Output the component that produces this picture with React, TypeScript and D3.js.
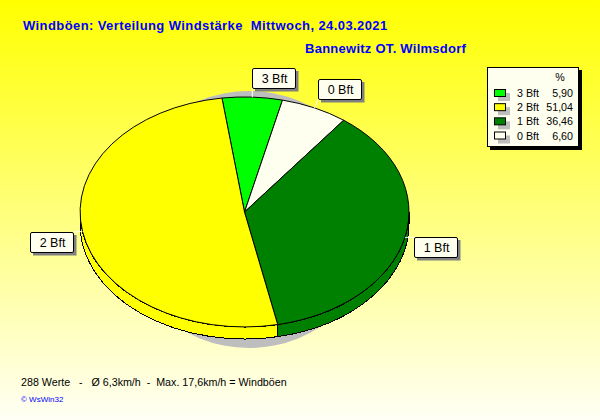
import * as d3 from 'd3';
import { ReactElement, useEffect, useRef } from 'react';

// Data, in the order the slices run clockwise
const sliceLabels = ['3 Bft', '0 Bft', '1 Bft', '2 Bft'];
const sliceValues = [5.9, 6.6, 36.46, 51.04];
const sliceColors = ['#00FF00', '#FFFFF0', '#008000', '#FFFF00'];

// Legend runs in another order
const legendLabels = ['3 Bft', '2 Bft', '1 Bft', '0 Bft'];
const legendValues = ['5,90', '51,04', '36,46', '6,60'];
const legendColors = ['#00FF00', '#FFFF00', '#008000', '#FFFFF0'];

const titleText = 'Windböen: Verteilung Windstärke  Mittwoch, 24.03.2021';
const stationText = 'Bannewitz OT. Wilmsdorf';
const footerText = '288 Werte   -   Ø 6,3km/h  -  Max. 17,6km/h = Windböen';
const creditText = '© WsWin32';

const WIDTH = 600;
const HEIGHT = 420;
const cx = 244.5;
const cy = 212;
const rx = 164.5;
const ry = 115;
const depth = 12;
const startAngle = (-7.9 * Math.PI) / 180;
const FONT = '"Liberation Sans", Arial, sans-serif';

export default function App(): ReactElement {
  const svgRef = useRef<SVGSVGElement>(null);

  useEffect(() => {
    if (!svgRef.current) { return; }
    const svg = d3.select(svgRef.current);
    svg.selectAll('*').remove();

    // Background gradient
    const defs = svg.append('defs');
    const grad = defs.append('linearGradient')
      .attr('id', 'bg')
      .attr('x1', 0).attr('y1', 0).attr('x2', 0).attr('y2', 1);
    grad.append('stop').attr('offset', '0%').attr('stop-color', '#FFFF00');
    grad.append('stop').attr('offset', '100%').attr('stop-color', '#FFFFF5');
    svg.append('rect')
      .attr('width', WIDTH).attr('height', HEIGHT)
      .attr('fill', 'url(#bg)');

    // Titles
    svg.append('text')
      .attr('x', 23).attr('y', 30)
      .attr('fill', '#0000FF')
      .style('font', `bold 13px ${FONT}`)
      .style('letter-spacing', '0.41px')
      .style('white-space', 'pre')
      .text(titleText);
    svg.append('text')
      .attr('x', 305).attr('y', 53)
      .attr('fill', '#0000FF')
      .style('font', `bold 13px ${FONT}`)
      .style('letter-spacing', '0.26px')
      .style('white-space', 'pre')
      .text(stationText);

    // Shadow of the pie, only peeks out at top and bottom
    svg.append('ellipse')
      .attr('cx', 249).attr('cy', 219.5)
      .attr('rx', 130).attr('ry', 128.5)
      .attr('fill', '#BEBEBE');

    const pie = d3.pie<number>()
      .sort(null)
      .startAngle(startAngle)
      .endAngle(startAngle + 2 * Math.PI);
    const arcs = pie(sliceValues);

    // Unit radius arc, squashed to the ellipse by the group transform
    const arc = d3.arc<d3.PieArcDatum<number>>()
      .innerRadius(0)
      .outerRadius(1);

    const edge = (angle: number, dy = 0): [number, number] => [
      cx + rx * Math.sin(angle),
      cy - ry * Math.cos(angle) + dy,
    ];

    // Pie wall, front half only
    const wall = svg.append('g').attr('shape-rendering', 'crispEdges');
    arcs.forEach((d, i) => {
      const a0 = Math.max(d.startAngle, Math.PI / 2);
      const a1 = Math.min(d.endAngle, (3 * Math.PI) / 2);
      if (a1 <= a0) { return; }
      const [x0, y0] = edge(a0);
      const [x1, y1] = edge(a1);
      const [x2, y2] = edge(a1, depth);
      const [x3, y3] = edge(a0, depth);
      wall.append('path')
        .attr('d', `M${x0},${y0}A${rx},${ry} 0 0 1 ${x1},${y1}L${x2},${y2}A${rx},${ry} 0 0 0 ${x3},${y3}Z`)
        .attr('fill', sliceColors[i])
        .attr('stroke', '#000')
        .attr('stroke-width', 1);
    });

    // Pie top
    const top = svg.append('g')
      .attr('transform', `translate(${cx},${cy}) scale(${rx},${ry})`);
    top.selectAll('path')
      .data(arcs)
      .enter()
      .append('path')
      .attr('d', d => arc(d))
      .attr('fill', (_, i) => sliceColors[i])
      .attr('stroke', '#000')
      .attr('stroke-width', 1)
      .attr('vector-effect', 'non-scaling-stroke');

    // Slice labels, boxes hung off the rim at the slice middle
    const boxW = 43;
    const boxH = 20;
    const labelOffsets: [number, number][] = [[0, -29], [3.5, -29], [9, 0], [-52.5, 0]];
    arcs.forEach((d, i) => {
      const mid = (d.startAngle + d.endAngle) / 2;
      const [ex, ey] = edge(mid);
      const bx = Math.round(ex + labelOffsets[i][0]);
      const by = Math.round(ey + labelOffsets[i][1]);
      const nearX = Math.max(bx, Math.min(ex, bx + boxW));
      const nearY = Math.max(by, Math.min(ey, by + boxH));
      svg.append('line')
        .attr('x1', ex).attr('y1', ey)
        .attr('x2', nearX).attr('y2', nearY)
        .attr('stroke', '#FFF');
      svg.append('rect')
        .attr('x', bx + 3).attr('y', by + 3)
        .attr('width', boxW + 0.5).attr('height', boxH + 0.5)
        .attr('fill', '#808080');
      svg.append('rect')
        .attr('x', bx + 0.5).attr('y', by + 0.5)
        .attr('width', boxW).attr('height', boxH)
        .attr('rx', 1.5)
        .attr('fill', '#FFFFF0')
        .attr('stroke', '#000');
      svg.append('text')
        .attr('x', bx + boxW / 2 + 1).attr('y', by + 15)
        .attr('text-anchor', 'middle')
        .style('font', `12.5px ${FONT}`)
        .text(sliceLabels[i]);
    });

    // Legend
    const legendX = 487;
    const legendY = 67;
    const legendW = 91;
    const legendH = 79;
    svg.append('rect')
      .attr('x', legendX + 3).attr('y', legendY + 3)
      .attr('width', legendW + 1).attr('height', legendH + 1)
      .attr('fill', '#000');
    svg.append('rect')
      .attr('x', legendX + 0.5).attr('y', legendY + 0.5)
      .attr('width', legendW).attr('height', legendH)
      .attr('fill', '#FFFFF0')
      .attr('stroke', '#000');
    svg.append('text')
      .attr('x', 560).attr('y', 81)
      .attr('text-anchor', 'middle')
      .style('font', `10.7px ${FONT}`)
      .text('%');

    const rowScale = d3.scalePoint<string>()
      .domain(legendLabels)
      .range([93, 135.5]);
    legendLabels.forEach((label, i) => {
      const y = rowScale(label) || 0;
      svg.append('rect')
        .attr('x', 498).attr('y', y)
        .attr('width', 12).attr('height', 8)
        .attr('fill', '#BEBEBE');
      svg.append('rect')
        .attr('x', 494.5).attr('y', y - 3.5)
        .attr('width', 11).attr('height', 7)
        .attr('fill', legendColors[i])
        .attr('stroke', '#000');
      svg.append('text')
        .attr('x', 517).attr('y', y + 4)
        .style('font', `10.7px ${FONT}`)
        .text(label);
      svg.append('text')
        .attr('x', 573).attr('y', y + 4)
        .attr('text-anchor', 'end')
        .style('font', `10.7px ${FONT}`)
        .text(legendValues[i]);
    });

    // Footer
    svg.append('text')
      .attr('x', 21).attr('y', 386)
      .style('font', `10.7px ${FONT}`)
      .style('white-space', 'pre')
      .text(footerText);
    svg.append('text')
      .attr('x', 21).attr('y', 402)
      .attr('fill', '#0000FF')
      .style('font', `8px ${FONT}`)
      .text(creditText);
  }, []);

  return (
    <svg
      ref={svgRef}
      width={WIDTH}
      height={HEIGHT}
      style={{ position: 'absolute', left: 0, top: 0, display: 'block' }}
    />
  );
}
